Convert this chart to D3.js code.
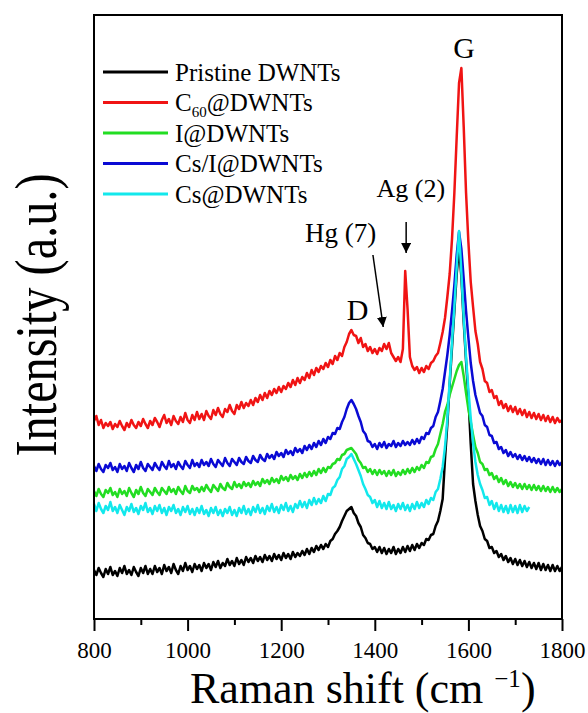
<!DOCTYPE html>
<html><head><meta charset="utf-8">
<script src="https://cdn.jsdelivr.net/npm/d3@7"></script>
<style>
body{margin:0;background:#fff}
svg{display:block}
text{font-family:"Liberation Serif","Times New Roman",serif;fill:#000}
</style>
</head><body>
<svg id="chart" width="588" height="713"></svg>
<script>
// Raman shift sampling (cm^-1), every 5 cm^-1 from 800 to 1800
const shift = d3.range(800, 1801, 5);

const pristine = [
49,44,51,46,42,50,45,52,44,48,43,51,46,53,45,49,44,52,47,43,
51,46,53,45,50,45,53,47,51,45,54,48,52,46,55,49,45,53,48,56,
49,53,47,55,50,54,48,56,51,55,49,57,52,58,51,56,53,60,54,58,
53,61,55,59,54,62,57,61,56,63,58,62,57,64,59,63,58,65,60,64,
59,66,61,65,60,67,62,66,63,68,64,70,65,71,67,73,69,74,70,75,
72,78,80,85,88,92,98,103,108,110,112,106,103,96,92,84,81,76,75,70,
72,67,72,66,71,65,70,66,72,65,70,66,72,67,73,68,74,69,75,71,
76,74,80,79,84,85,93,98,108,120,160,195,235,272,308,345,372,342,297,258,
222,175,135,118,104,93,88,80,78,71,72,66,68,62,65,59,63,57,61,55,
60,54,59,53,58,52,57,51,56,50,56,49,55,49,54,48,54,48,53,48,
52];

const c60 = [
198,203,194,199,191,196,193,197,190,195,192,198,193,189,196,192,199,194,191,197,
193,200,195,191,198,194,201,197,192,199,204,196,200,194,203,198,195,202,197,206,
199,196,204,199,207,200,205,199,208,203,200,209,204,211,205,202,210,207,214,208,
205,214,210,217,211,216,213,219,214,221,217,224,219,226,221,228,224,230,226,232,
227,233,230,236,232,239,234,241,236,242,239,246,241,249,244,251,247,253,250,256,
252,259,255,263,259,266,263,272,277,285,289,284,283,276,281,272,275,268,272,266,
270,265,271,268,275,270,276,266,262,258,262,257,270,348,310,262,253,249,252,246,
251,247,253,250,256,258,263,266,276,287,301,322,345,380,426,482,536,551,492,426,
377,337,312,288,275,257,250,238,236,227,229,221,223,214,218,211,215,208,213,207,
212,205,210,204,209,202,207,201,206,200,205,199,204,198,203,197,202,196,201,197,
199];

const iodine = [
128,123,130,125,122,129,126,131,124,127,122,130,125,128,123,131,126,122,129,125,
132,126,123,130,127,124,131,127,124,131,128,125,132,127,130,125,132,128,125,133,
128,126,133,129,131,127,132,128,134,130,127,134,131,128,135,131,129,136,132,130,
137,132,135,131,137,133,136,132,138,134,137,133,140,136,139,135,141,137,140,136,
143,139,142,138,144,140,143,139,145,141,146,142,147,143,148,144,150,146,151,147,
152,151,155,156,160,159,164,165,169,170,171,168,165,159,156,151,152,147,150,145,
149,144,149,145,148,143,148,144,149,143,147,144,149,145,150,146,151,147,152,149,
154,151,157,156,162,163,170,175,185,195,207,214,224,232,240,248,254,257,243,226,
210,197,184,172,166,157,155,149,150,144,146,140,143,137,141,135,139,133,137,132,
136,131,135,130,135,130,134,129,134,129,133,128,133,128,132,127,132,127,131,127,
130];

const csI = [
153,148,155,150,147,154,151,156,149,152,147,155,150,153,148,156,151,147,154,150,
157,151,148,155,152,149,156,152,149,157,153,150,158,152,155,150,157,153,150,158,
154,151,159,153,156,152,159,154,157,153,160,155,152,159,156,153,161,156,153,160,
157,154,161,157,155,162,158,156,163,159,157,164,160,158,165,161,164,160,167,163,
166,162,169,165,168,164,171,167,170,166,173,169,174,170,176,172,178,174,180,176,
182,180,186,185,191,190,197,202,210,216,219,215,210,203,197,188,185,178,177,172,
175,170,176,172,177,171,175,173,178,172,176,173,178,174,177,174,179,175,180,176,
182,180,186,185,191,193,202,207,218,230,247,264,284,308,334,364,387,370,340,308,
281,256,238,224,215,206,203,194,192,184,183,176,177,170,172,166,169,163,167,162,
165,160,164,159,163,158,162,157,161,156,160,155,160,154,159,154,158,153,158,154,
157];

const cesium = [
115,108,116,110,106,113,109,117,108,112,106,114,109,104,112,108,115,107,111,105,
113,109,116,107,111,105,113,108,114,106,111,104,112,108,114,106,110,104,112,107,
113,105,110,104,111,106,113,105,109,103,111,106,112,104,109,103,110,106,112,104,
109,103,111,106,113,105,110,104,112,107,114,106,111,105,113,108,115,107,112,106,
114,109,116,108,113,107,115,111,118,112,117,111,119,114,121,115,120,116,123,118,
125,124,131,133,139,142,150,153,160,162,165,160,155,149,143,135,130,124,122,116,
119,112,118,111,116,110,117,110,114,108,115,110,116,109,114,108,115,110,117,111,
116,112,119,115,121,119,127,130,140,152,172,200,238,277,312,352,388,346,301,262,
229,201,176,157,144,135,129,121,122,114,118,110,116,108,114,107,113,106,114,107,
113,106,114,107,113,108,112,null,null,null,null,null,null,null,null,null,null,null,null,null,
null];

const seriesNames = ["Pristine DWNTs", "C60@DWNTs", "I@DWNTs", "Cs/I@DWNTs", "Cs@DWNTs"];
const seriesColors = ["#000000", "#f01414", "#22dd22", "#0a0ad4", "#12e8ec"];
const seriesValues = [pristine, c60, iodine, csI, cesium];

const majorTicks = [800, 1000, 1200, 1400, 1600, 1800];
const minorTicks = [900, 1100, 1300, 1500, 1700];

// peak annotations: [label, shift, intensity]
const peakLabels = [["G", 1591, 561], ["Ag (2)", 1477, 422], ["Hg (7)", 1327, 377], ["D", 1363, 299]];
// arrows: [fromShift, fromIntensity, toShift, toIntensity]
const peakArrows = [[1467, 397, 1467, 366], [1396, 364, 1418, 292]];

const M = {left: 94, right: 562, top: 15, bottom: 619};
const svg = d3.select("#chart");

const x = d3.scaleLinear().domain([800, 1800]).range([M.left, M.right]);
const y = d3.scaleLinear().domain([0, 604]).range([M.bottom, M.top]);

// curves
const line = d3.line()
  .defined(d => d[1] != null)
  .x(d => x(d[0]))
  .y(d => y(d[1]));

[0, 1, 2, 3, 4].forEach(i => {
  const pts = shift.map((s, k) => [s, seriesValues[i][k] === undefined ? null : seriesValues[i][k]]);
  svg.append("path")
    .attr("d", line(pts))
    .attr("fill", "none")
    .attr("stroke", seriesColors[i])
    .attr("stroke-width", 2.5)
    .attr("stroke-linejoin", "round");
});

// frame
svg.append("rect")
  .attr("x", M.left).attr("y", M.top)
  .attr("width", M.right - M.left).attr("height", M.bottom - M.top)
  .attr("fill", "none").attr("stroke", "#000").attr("stroke-width", 2);

// x axis
const xAxis = d3.axisBottom(x).tickValues(majorTicks).tickSize(12).tickPadding(11).tickFormat(d3.format("d"));
const gx = svg.append("g").attr("transform", `translate(0,${M.bottom})`).call(xAxis);
gx.select(".domain").remove();
gx.selectAll(".tick line").attr("stroke", "#000").attr("stroke-width", 2);
gx.selectAll(".tick text").attr("font-family", '"Liberation Serif", serif').attr("font-size", 23).attr("fill", "#000");
const xMinor = d3.axisBottom(x).tickValues(minorTicks).tickSize(6).tickFormat("");
const gm = svg.append("g").attr("transform", `translate(0,${M.bottom})`).call(xMinor);
gm.select(".domain").remove();
gm.selectAll(".tick line").attr("stroke", "#000").attr("stroke-width", 2);

// axis titles
const xt = svg.append("text").attr("x", 190).attr("y", 703).attr("font-size", 44);
xt.append("tspan").text("Raman shift (cm ");
xt.append("tspan").attr("font-size", 25).attr("dy", -16).text("\u22121");
xt.append("tspan").attr("dy", 16).text(")");

svg.append("text")
  .attr("transform", "translate(56,315) rotate(-90)")
  .attr("text-anchor", "middle")
  .attr("font-size", 60)
  .attr("textLength", 283)
  .attr("lengthAdjust", "spacingAndGlyphs")
  .text("Intensity (a.u.)");

// legend
const legendY0 = 72, legendDy = 30.5;
seriesNames.forEach((name, i) => {
  const ly = legendY0 + i * legendDy;
  svg.append("line").attr("x1", 103).attr("x2", 168).attr("y1", ly).attr("y2", ly)
    .attr("stroke", seriesColors[i]).attr("stroke-width", 3);
  const t = svg.append("text").attr("x", 175).attr("y", ly + 8.5).attr("font-size", 25);
  if (name.startsWith("C60")) {
    t.append("tspan").text("C");
    t.append("tspan").attr("font-size", 15).attr("dy", 6).text("60");
    t.append("tspan").attr("dy", -6).text("@DWNTs");
  } else {
    t.text(name);
  }
});

// peak labels
const labelSizes = {"G": 30, "Ag (2)": 26, "Hg (7)": 27, "D": 30};
peakLabels.forEach(([lab, s, v]) => {
  svg.append("text").attr("x", x(s)).attr("y", y(v)).attr("text-anchor", "middle")
    .attr("font-size", labelSizes[lab]).text(lab);
});

// arrows
svg.append("defs").append("marker")
  .attr("id", "ah").attr("viewBox", "0 0 10 10").attr("refX", 10).attr("refY", 5)
  .attr("markerWidth", 10).attr("markerHeight", 10).attr("markerUnits", "userSpaceOnUse")
  .attr("orient", "auto")
  .append("path").attr("d", "M0,0 L10,5 L0,10 Z").attr("fill", "#000");
peakArrows.forEach(([s0, v0, s1, v1]) => {
  svg.append("line")
    .attr("x1", x(s0)).attr("y1", y(v0)).attr("x2", x(s1)).attr("y2", y(v1))
    .attr("stroke", "#000").attr("stroke-width", 1.5)
    .attr("marker-end", "url(#ah)");
});
</script>
</body></html>
